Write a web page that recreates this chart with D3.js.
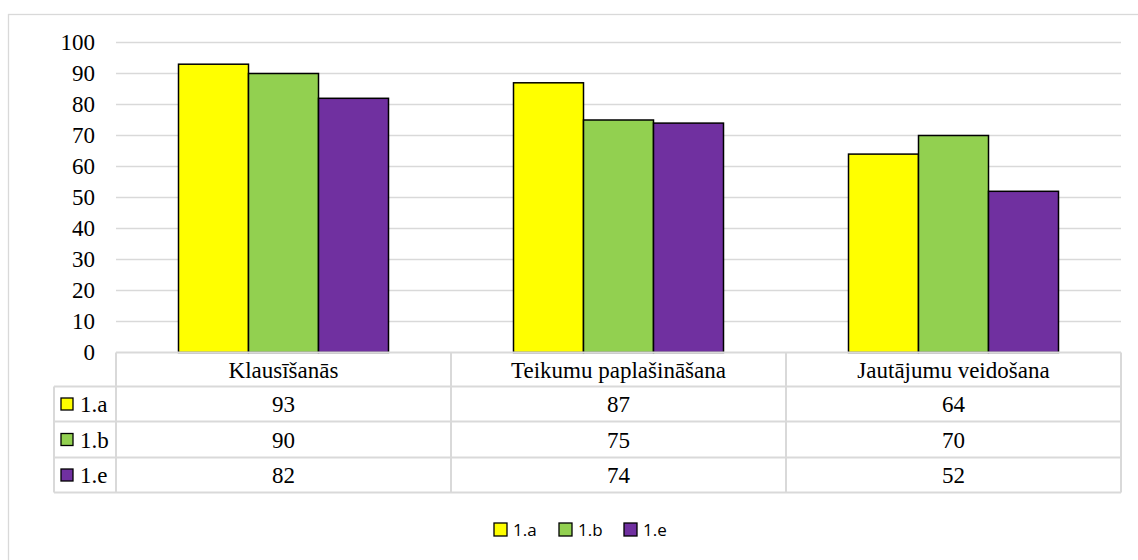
<!DOCTYPE html>
<html>
<head>
<meta charset="utf-8">
<script src="https://cdn.jsdelivr.net/npm/d3@7"></script>
<style>
  html, body { margin: 0; padding: 0; background: #fff; }
  svg { display: block; }
  svg text.serif { font-family: 'Liberation Serif', 'Times New Roman', 'DejaVu Serif', serif; font-size: 23px; fill: #000; }
  svg text.sans { font-family: 'Open Sans', 'Noto Sans', sans-serif; font-size: 17px; fill: #000; }
</style>
</head>
<body>
<svg id="chart" width="1138" height="560"></svg>
<script>
// data
const categories = ['Klausīšanās', 'Teikumu paplašināšana', 'Jautājumu veidošana'];
const seriesNames = ['1.a', '1.b', '1.e'];
const seriesColors = ['#ffff00', '#92d050', '#7030a0'];
const values1a = [93, 87, 64];
const values1b = [90, 75, 70];
const values1e = [82, 74, 52];
const yTicks = [0, 10, 20, 30, 40, 50, 60, 70, 80, 90, 100];

const seriesValues = [values1a, values1b, values1e];

const svg = d3.select('#chart');
const gridColor = '#d9d9d9';

// outer frame (right/bottom edges fall outside the picture)
svg.append('rect')
  .attr('x', 8.5).attr('y', 14.5).attr('width', 1160).attr('height', 600)
  .attr('fill', 'none').attr('stroke', gridColor).attr('stroke-width', 1.3);

const plotLeft = 116, plotRight = 1121;
const plotTop = 42.5, plotBottom = 352.5;

const x0 = d3.scaleBand().domain(categories).range([plotLeft, plotRight]);
// bars are 70px wide inside a 335px column
const x1 = d3.scaleBand().domain(seriesNames).range([62.5, x0.bandwidth() - 62.5]);
const y = d3.scaleLinear().domain([0, 100]).range([plotBottom, plotTop]);

// gridlines
svg.append('g').selectAll('line')
  .data(yTicks.filter(d => d > 0)).join('line')
  .attr('x1', plotLeft).attr('x2', plotRight)
  .attr('y1', d => y(d)).attr('y2', d => y(d))
  .attr('stroke', gridColor).attr('stroke-width', 1.3);

// y axis labels
const yAxis = svg.append('g')
  .attr('transform', `translate(${plotLeft - 21},0)`)
  .call(d3.axisLeft(y).tickValues(yTicks).tickSize(0).tickPadding(0));
yAxis.attr('font-family', null).attr('font-size', null);
yAxis.select('.domain').remove();
yAxis.selectAll('text')
  .attr('class', 'serif')
  .attr('fill', null)
  .attr('dy', '0.32em');

// bars
const groups = svg.append('g').selectAll('g')
  .data(categories).join('g')
  .attr('transform', d => `translate(${x0(d)},0)`);

groups.selectAll('rect')
  .data((c, ci) => seriesNames.map((s, si) => ({ s, si, v: seriesValues[si][ci] })))
  .join('rect')
  .attr('x', d => x1(d.s))
  .attr('width', x1.bandwidth())
  .attr('y', d => y(d.v))
  .attr('height', d => y(0) - y(d.v))
  .attr('fill', d => seriesColors[d.si])
  .attr('stroke', '#000').attr('stroke-width', 1.5);

// data table
const rowEdges = [352.5, 386.5, 421.5, 457.5, 492.5];
const legendColLeft = 54;
const table = svg.append('g');

function line(xa, ya, xb, yb) {
  table.append('line').attr('x1', xa).attr('y1', ya).attr('x2', xb).attr('y2', yb)
    .attr('stroke', gridColor).attr('stroke-width', 2);
}
line(plotLeft, rowEdges[0], plotRight, rowEdges[0]);
for (let i = 1; i < rowEdges.length; i++) line(legendColLeft, rowEdges[i], plotRight, rowEdges[i]);
line(legendColLeft, rowEdges[1], legendColLeft, rowEdges[4]);
categories.forEach(c => line(x0(c), rowEdges[0], x0(c), rowEdges[4]));
line(plotRight, rowEdges[0], plotRight, rowEdges[4]);

// header
table.selectAll('text.head')
  .data(categories).join('text').attr('class', 'serif head')
  .attr('x', d => x0(d) + x0.bandwidth() / 2)
  .attr('y', (rowEdges[0] + rowEdges[1]) / 2)
  .attr('dy', '0.35em')
  .attr('text-anchor', 'middle')
  .text(d => d);

// value rows
seriesNames.forEach((s, si) => {
  const cy = (rowEdges[si + 1] + rowEdges[si + 2]) / 2;
  table.append('rect')
    .attr('x', 61).attr('y', cy - 6).attr('width', 12).attr('height', 12)
    .attr('fill', seriesColors[si]).attr('stroke', '#000').attr('stroke-width', 1.3);
  table.append('text').attr('class', 'serif')
    .attr('x', 80).attr('y', cy).attr('dy', '0.35em')
    .text(s);
  table.selectAll(null)
    .data(categories).join('text').attr('class', 'serif')
    .attr('x', d => x0(d) + x0.bandwidth() / 2)
    .attr('y', cy).attr('dy', '0.35em')
    .attr('text-anchor', 'middle')
    .text((d, ci) => seriesValues[si][ci]);
});

// bottom legend
const legend = svg.append('g').attr('transform', 'translate(494,529)');
const items = legend.selectAll('g')
  .data(seriesNames).join('g')
  .attr('transform', (d, i) => `translate(${i * 65},0)`);
items.append('rect')
  .attr('x', 0).attr('y', -6).attr('width', 13).attr('height', 13)
  .attr('fill', (d, i) => seriesColors[i]).attr('stroke', '#000').attr('stroke-width', 1.3);
items.append('text').attr('class', 'sans')
  .attr('x', 19).attr('y', 1).attr('dy', '0.35em')
  .text(d => d);
</script>
</body>
</html>
